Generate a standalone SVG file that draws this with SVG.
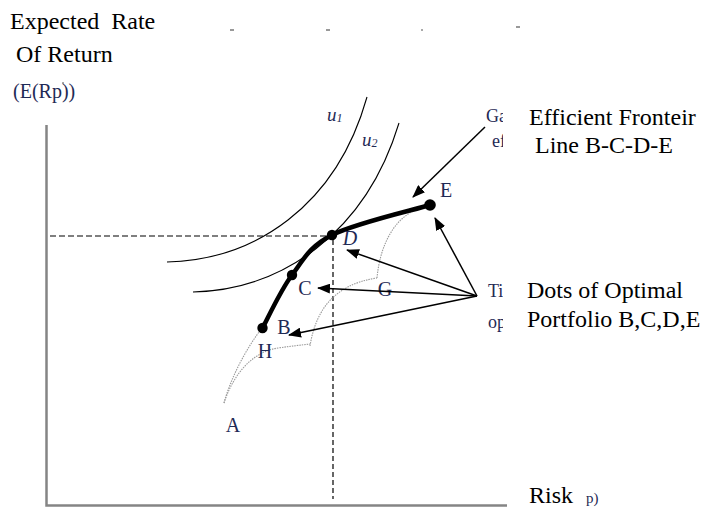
<svg xmlns="http://www.w3.org/2000/svg" width="704" height="513" viewBox="0 0 704 513">
<defs>
<style>
.t{font-family:"Liberation Serif","Times New Roman",serif;fill:#000}
.big{font-size:24px}
.lbl{font-family:"Liberation Serif","Times New Roman",serif;font-size:20px;fill:#1f2a55}
.cut{font-family:"Liberation Serif","Times New Roman",serif;font-size:18px;fill:#1f2a55}
.axis{stroke:#858585;stroke-width:2.5;fill:none}
.dash{stroke:#000;stroke-width:1.2;fill:none;stroke-dasharray:5,3}
.dot{stroke:#9a9a9a;stroke-width:1.1;fill:none;stroke-dasharray:1.5,1}
.ucurve{stroke:#000;stroke-width:1.1;fill:none}
.arr{stroke:#000;stroke-width:1.5;fill:none;marker-end:url(#ah)}
</style>
<marker id="ah" markerUnits="userSpaceOnUse" markerWidth="13" markerHeight="10" refX="12" refY="5" orient="auto">
<path d="M0,0 L13,5 L0,10 z" fill="#000"/>
</marker>
<clipPath id="clipR"><rect x="0" y="0" width="503" height="513"/></clipPath>
</defs>

<g id="axes">
<path class="axis" d="M46.5,125 L46.5,505.5 L507,505.5"/>
</g>

<g id="guides">
<path class="dash" d="M50,236 L332,236" style="stroke-dasharray:6,3"/>
<path class="dash" d="M333,240 L333,499"/>
</g>

<g id="feasible-set">
<path class="dot" d="M224,403 C230,380 245,350 262,328"/>
<path class="dot" d="M224,403 C232,378 250,352 278,348 C292,346 302,345 310,344"/>
<path class="dot" d="M310,346 C315,315 330,285 377,278"/>
<path class="dot" d="M377,278 C380,245 395,212 428,206"/>
</g>

<g id="utility-curves">
<path id="u1" class="ucurve" d="M167,262 C254,260 336,207 367,97"/>
<path id="u2" class="ucurve" d="M193,292 C280,290 365,235 399,123"/>
</g>

<g id="frontier">
<path d="M262.5,328 C267.4,319.2 280.4,290.5 292,275 C303.6,259.5 309,246.7 332,235 C355,223.3 413.7,210 430,205" stroke="#000" stroke-width="4.5" fill="none" stroke-linecap="round"/>
</g>

<g id="portfolio-B"><circle cx="262.5" cy="328" r="5.2"/><text class="lbl" x="284" y="334" text-anchor="middle">B</text></g>
<g id="portfolio-C"><circle cx="292" cy="275" r="5.2"/><text class="lbl" x="305" y="295" text-anchor="middle">C</text></g>
<g id="portfolio-D"><circle cx="332" cy="235" r="5.2"/><text class="lbl" x="350" y="245" text-anchor="middle" style="font-style:italic">D</text></g>
<g id="portfolio-E"><circle cx="430" cy="205" r="5.8"/><text class="lbl" x="446" y="197" text-anchor="middle">E</text></g>
<g id="point-A"><text class="lbl" x="233" y="432" text-anchor="middle">A</text></g>
<g id="point-H"><text class="lbl" x="265" y="358" text-anchor="middle">H</text></g>
<g id="point-G"><text class="lbl" x="385" y="296" text-anchor="middle">G</text></g>
<g id="label-u1"><text class="lbl" x="327" y="121" style="font-style:italic;font-size:19px">u<tspan style="font-size:12px" dy="1">1</tspan></text></g>
<g id="label-u2"><text class="lbl" x="362" y="146" style="font-style:italic;font-size:19px">u<tspan style="font-size:12px" dy="1">2</tspan></text></g>

<g id="connectors">
<path class="arr" d="M485,127 L413,197"/>
<path class="arr" d="M477,296 L435,218"/>
<path class="arr" d="M477,296 L347,250"/>
<path class="arr" d="M477,296 L318,288"/>
<path class="arr" d="M477,296 L289,335"/>
</g>

<g id="y-axis-title">
<text class="t big" x="10" y="29" xml:space="preserve">Expected  Rate</text>
<text class="t big" x="16" y="62">Of Return</text>
<text class="cut" x="13" y="98" style="font-size:20px">(E(Rp))</text>
<path d="M62,83 L64,83" stroke="#555" stroke-width="1"/>
</g>

<g id="top-marks" stroke="#555" stroke-width="1.2">
<path d="M230,30 L234,30"/>
<path d="M326,30 L330,30"/>
<path d="M421,30 L423,30"/>
<path d="M516,27 L520,27"/>
</g>

<g id="x-axis-title">
<text class="t big" x="529" y="503">Risk</text>
<text class="cut" x="586" y="503" style="font-size:15px">p)</text>
</g>

<g id="note-frontier">
<g clip-path="url(#clipR)">
<text class="cut" x="486" y="122">Ga</text>
<text class="cut" x="492" y="147">ef</text>
</g>
<text class="t big" x="529" y="125">Efficient Fronteir</text>
<text class="t big" x="535" y="153">Line B-C-D-E</text>
</g>

<g id="note-optimal">
<g clip-path="url(#clipR)">
<text class="cut" x="488" y="297">Ti</text>
<text class="cut" x="488" y="328">op</text>
</g>
<text class="t big" x="527" y="298">Dots of Optimal</text>
<text class="t big" x="527" y="327">Portfolio B,C,D,E</text>
</g>
</svg>
